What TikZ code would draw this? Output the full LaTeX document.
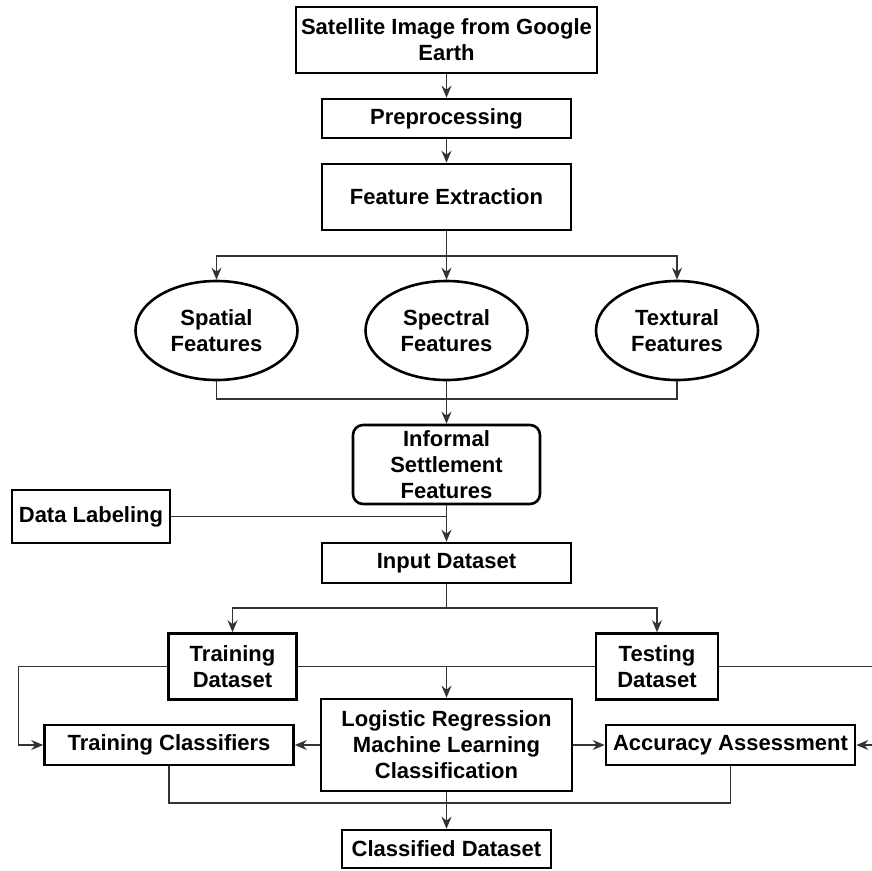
\documentclass[tikz,border=0pt]{standalone}
\usepackage{fontspec}
\setmainfont{Liberation Sans}
\usetikzlibrary{arrows.meta,shapes.geometric}

\begin{document}
\begin{tikzpicture}[x=1pt,y=-1pt,>={Stealth[length=12pt,width=10pt,inset=4pt]},
	box/.style={draw,line width=2.6pt,inner sep=0pt,align=center,font=\fontsize{22}{26}\selectfont\bfseries},
	oval/.style={box,ellipse},
	rbox/.style={box,rounded corners=10pt},
	line/.style={line width=1.3pt,black!80}]
	\clip (0,0) rectangle (872,870);
	
	\node [box,minimum width=301,minimum height=66] (sat) at (446.5, 40) {Satellite Image from Google\\Earth};
	\node [box,minimum width=249,minimum height=39] (pre) at (446.5, 118.5) {Preprocessing};
	\node [box,minimum width=249,minimum height=66] (feat) at (446.5, 197) {Feature Extraction};
	
	\node [oval,minimum width=162,minimum height=99] (spat) at (216.5, 330.5) {Spatial\\Features};
	\node [oval,minimum width=162,minimum height=99] (spec) at (446.5, 330.5) {Spectral\\Features};
	\node [oval,minimum width=162,minimum height=99] (text) at (677, 330.5) {Textural\\Features};
	
	\node [rbox,minimum width=187,minimum height=79] (inf) at (446.5, 464.5) {Informal\\Settlement\\Features};
	\node [box,minimum width=158,minimum height=53] (lab) at (91, 516.5) {Data Labeling};
	\node [box,minimum width=249,minimum height=40] (inp) at (446.5, 563) {Input Dataset};
	
	\node [box,minimum width=128,minimum height=66] (train) at (232.5, 666.5) {Training\\Dataset};
	\node [box,minimum width=122,minimum height=66] (test) at (657, 666.5) {Testing\\Dataset};
	
	\node [box,minimum width=251,minimum height=92] (logit) at (446.5, 745) {Logistic Regression\\Machine Learning\\Classification};
	\node [box,minimum width=249,minimum height=40] (tcls) at (169, 745) {Training Classifiers};
	\node [box,minimum width=249,minimum height=40] (acc) at (730.5, 745) {Accuracy Assessment};
	\node [box,minimum width=209,minimum height=38] (cls) at (446.5, 849) {Classified Dataset};
	
	\coordinate (fsplit) at (446.5, 256);
	\coordinate (fmerge) at (446.5, 399);
	\coordinate (dsplit) at (446.5, 608);
	\coordinate (cmerge) at (446.5, 803);
	
	\draw [line,->] (sat) -- (pre);
	\draw [line,->] (pre) -- (feat);
	
	\draw [line] (feat) -- (fsplit);
	\draw [line,->] (fsplit) -| (spat);
	\draw [line,->] (fsplit) -- (spec);
	\draw [line,->] (fsplit) -| (text);
	
	\draw [line] (spat) |- (fmerge);
	\draw [line] (text) |- (fmerge);
	\draw [line,->] (spec) -- (inf);
	
	\draw [line,->] (inf) -- (inp);
	\draw [line] (lab) -- (lab -| inp);
	
	\draw [line] (inp) -- (dsplit);
	\draw [line,->] (dsplit) -| (train);
	\draw [line,->] (dsplit) -| (test);
	
	\draw [line] (train.east) -- (test.west);
	\draw [line,->] (logit.north |- train.east) -- (logit);
	\draw [line,->] (train.west) -- ++(-149, 0) |- (tcls.west);
	\draw [line,->] (test.east) -- (890, 666.5) |- (acc.east);
	
	\draw [line,->] (logit) -- (tcls);
	\draw [line,->] (logit) -- (acc);
	\draw [line] (tcls) |- (cmerge) -| (acc);
	\draw [line,->] (logit) -- (cls);
	
\end{tikzpicture}
\end{document}
